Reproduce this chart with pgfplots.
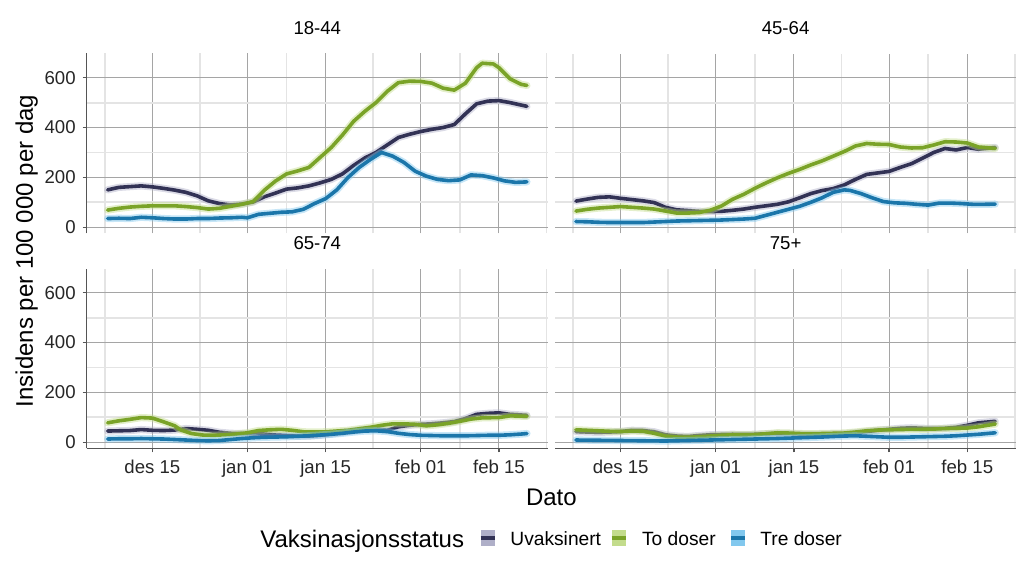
\documentclass[border=0pt]{standalone}
\usepackage{fontspec}
\setmainfont{Liberation Sans}
\usepackage{pgfplots}
\pgfplotsset{compat=1.18}
\definecolor{cU}{RGB}{50,50,85}
\definecolor{cUh}{RGB}{175,175,200}
\definecolor{cT}{RGB}{122,163,40}
\definecolor{cTh}{RGB}{195,220,140}
\definecolor{cR}{RGB}{27,118,170}
\definecolor{cRh}{RGB}{130,200,238}
\definecolor{gmaj}{RGB}{165,165,165}
\definecolor{gmin}{RGB}{228,228,228}
\definecolor{axl}{RGB}{85,85,85}
\newcommand{\tfont}{\fontsize{9.3}{11}\selectfont}
\newcommand{\lfont}{\fontsize{9.6}{11}\selectfont}
\newcommand{\bfont}{\fontsize{12}{14}\selectfont}
\pgfplotsset{
  panel/.style={
    scale only axis, width=230.6pt, height=90pt,
    xmin=2.25, xmax=84.75, ymin=-25, ymax=697,
    axis x line*=bottom, axis y line*=left,
    x axis line style={-, draw=axl, line width=0.7pt},
    y axis line style={-, draw=axl, line width=0.7pt},
    xtick={14,31,45,62,76},
    xticklabels={des 15, jan 01, jan 15, feb 01, feb 15},
    minor xtick={5.5,22.5,38,53.5,69,84.5},
    ytick={0,200,400,600},
    minor ytick={100,300,500},
    grid=both,
    major grid style={draw=gmaj, line width=0.5pt},
    minor grid style={draw=gmin, line width=0.9pt},
    tick align=outside, major tick length=2pt, minor tick length=0pt,
    tick style={draw=axl, line width=0.6pt},
    tick label style={font=\tfont, text=black!85},
    /pgf/number format/assume math mode=true,
    title style={font=\tfont, at={(0.5,1)}, anchor=center, yshift=6.8pt, inner sep=0pt},
  },
  top/.style={x axis line style={draw=none}, xmajorticks=false, xticklabels={}},
  right/.style={y axis line style={draw=none}, ymajorticks=false, yticklabels={}},
  halo/.style={line width=3.6pt, opacity=0.45, line join=round, line cap=round},
  main/.style={line width=1.8pt, line join=round, line cap=round},
}
\newcommand{\ser}[3]{%
  \addplot[#2, halo] coordinates {#3};
  \addplot[#1, main] coordinates {#3};}
\begin{document}
\begin{tikzpicture}
% 18-44
\begin{axis}[panel, top, at={(43.35pt,164.25pt)}, anchor=south west, title={18-44}]
\ser{cU}{cUh}{(6,150)(8,160)(10,163)(12,166)(14,162)(16,156)(18,149)(20,140)(22,126)(24,106)(26,95)(28,89)(30,93)(32,101)(34,122)(36,137)(38,153)(40,158)(42,166)(44,178)(46,192)(48,214)(50,248)(52,278)(54,300)(56,330)(58,360)(60,373)(62,384)(64,393)(66,400)(68,412)(70,455)(72,495)(74,506)(76,508)(78,500)(80,490)(81,485)}
\ser{cT}{cTh}{(6,69)(8,76)(10,81)(12,84)(14,86)(16,86)(18,86)(20,83)(22,79)(24,73)(26,76)(28,84)(30,92)(32,103)(33,125)(34,148)(36,185)(38,214)(40,226)(42,240)(44,280)(46,320)(48,370)(50,425)(52,465)(54,500)(56,545)(58,580)(60,586)(62,585)(64,578)(66,558)(68,550)(70,578)(72,640)(73,658)(75,655)(76,640)(78,595)(80,573)(81,569)}
\ser{cR}{cRh}{(6,35)(8,36)(10,35)(12,40)(14,38)(16,35)(18,33)(20,33)(22,35)(24,35)(26,37)(28,38)(30,40)(31,38)(33,52)(35,56)(37,60)(39,62)(41,72)(43,95)(45,115)(47,150)(49,200)(51,240)(53,272)(55,300)(57,285)(59,260)(61,225)(63,205)(65,192)(67,187)(69,190)(71,210)(73,207)(75,198)(77,186)(79,180)(81,182)}
\end{axis}
% 45-64
\begin{axis}[panel, top, right, at={(277.5pt,164.25pt)}, anchor=south west, title={45-64}]
\ser{cU}{cUh}{(6,105)(8,113)(10,120)(12,122)(14,116)(16,111)(18,106)(20,99)(22,80)(24,70)(26,67)(28,64)(30,63)(32,64)(34,68)(36,73)(38,80)(40,86)(42,92)(44,102)(46,118)(48,135)(50,147)(52,155)(54,170)(56,192)(58,212)(60,218)(62,224)(64,240)(66,255)(68,277)(70,300)(72,316)(74,310)(76,320)(78,313)(81,320)}
\ser{cT}{cTh}{(6,65)(8,72)(10,77)(12,80)(14,83)(16,80)(18,77)(20,73)(22,65)(24,57)(26,57)(28,59)(30,68)(32,85)(34,112)(36,132)(38,156)(40,178)(42,198)(44,216)(46,232)(48,250)(50,266)(52,285)(54,304)(56,326)(58,336)(60,333)(62,332)(64,322)(66,318)(68,319)(70,330)(72,343)(74,342)(76,338)(78,322)(81,316)}
\ser{cR}{cRh}{(6,23)(8,22)(10,20)(12,19)(14,19)(16,19)(18,19)(20,21)(22,23)(24,25)(26,26)(28,27)(30,28)(32,29)(34,31)(36,33)(38,36)(40,48)(42,60)(44,72)(46,84)(48,100)(50,118)(52,140)(54,150)(55,148)(57,135)(59,118)(61,103)(63,98)(65,96)(67,92)(69,89)(71,97)(73,97)(75,95)(77,92)(79,92)(81,93)}
\end{axis}
% 65-74
\begin{axis}[panel, at={(43.35pt,56.75pt)}, anchor=south west, title={65-74}]
\ser{cU}{cUh}{(6,45)(8,46)(10,47)(12,51)(14,48)(16,47)(18,49)(20,55)(22,52)(24,48)(26,40)(28,36)(30,35)(32,34)(34,33)(36,29)(38,27)(40,25)(42,25)(44,28)(46,33)(48,40)(50,46)(52,52)(54,54)(56,48)(58,62)(60,68)(62,72)(64,74)(66,78)(68,83)(70,95)(72,112)(74,116)(76,118)(78,112)(81,108)}
\ser{cT}{cTh}{(6,78)(8,86)(10,92)(12,99)(14,97)(16,82)(18,66)(19,50)(21,35)(23,29)(25,28)(27,30)(29,33)(31,38)(33,47)(35,50)(37,52)(39,48)(41,42)(43,41)(45,42)(47,45)(49,48)(51,54)(53,60)(55,68)(57,74)(59,74)(61,72)(63,66)(65,70)(67,76)(69,84)(71,93)(73,98)(76,99)(78,106)(81,104)}
\ser{cR}{cRh}{(6,13)(8,14)(10,14)(12,15)(14,14)(16,13)(18,11)(20,9)(22,7)(24,6)(26,7)(28,11)(30,15)(32,18)(34,20)(36,21)(38,22)(40,24)(42,26)(44,29)(46,32)(48,36)(50,41)(52,45)(54,46)(56,43)(58,36)(60,31)(62,28)(64,27)(66,26)(68,26)(70,26)(72,27)(74,28)(76,28)(78,30)(80,33)(81,35)}
\end{axis}
% 75+
\begin{axis}[panel, right, at={(277.5pt,56.75pt)}, anchor=south west, title={75+}]
\ser{cU}{cUh}{(6,43)(8,41)(10,40)(12,41)(14,43)(16,48)(18,47)(20,42)(22,30)(24,25)(26,23)(28,27)(30,30)(32,31)(34,32)(36,31)(38,32)(40,34)(42,35)(44,35)(46,33)(48,32)(50,33)(52,34)(54,35)(56,38)(58,43)(60,48)(62,52)(64,56)(66,58)(68,56)(70,55)(72,56)(74,60)(76,68)(78,78)(81,84)}
\ser{cT}{cTh}{(6,50)(8,48)(10,46)(12,44)(14,43)(16,45)(18,44)(20,36)(22,25)(24,21)(26,20)(28,22)(30,25)(32,28)(34,30)(36,30)(38,31)(40,34)(42,38)(44,37)(46,35)(48,34)(50,35)(52,36)(54,37)(56,41)(58,46)(60,49)(62,50)(64,51)(66,52)(68,52)(70,53)(72,55)(74,56)(76,57)(78,62)(81,73)}
\ser{cR}{cRh}{(6,9)(10,8)(14,7)(18,6)(22,5)(26,7)(30,9)(34,11)(38,13)(42,15)(46,18)(50,21)(54,25)(56,26)(58,24)(60,22)(62,20)(64,20)(66,21)(68,22)(70,23)(72,24)(74,26)(76,29)(78,32)(81,38)}
\end{axis}
% axis titles
\node[font=\bfont, rotate=90, anchor=base, inner sep=0pt] at (16.5pt,155.5pt) {Insidens per 100 000 per dag};
\node[font=\bfont, anchor=base, inner sep=0pt] at (275.7pt,28pt) {Dato};
% legend
\node[font=\bfont, anchor=base west, inner sep=0pt] at (130pt,7.4pt) {Vaksinasjonsstatus};
\fill[cUh] (240.35pt,8pt) rectangle (247.5pt,16pt);
\draw[cU, line width=1.6pt] (240.35pt,12pt) -- (247.5pt,12pt);
\node[font=\lfont, anchor=base west, inner sep=0pt] at (255pt,8pt) {Uvaksinert};
\fill[cTh] (305.85pt,8pt) rectangle (313pt,16pt);
\draw[cT, line width=1.6pt] (305.85pt,12pt) -- (313pt,12pt);
\node[font=\lfont, anchor=base west, inner sep=0pt] at (320.85pt,8pt) {To doser};
\fill[cRh] (365.5pt,8pt) rectangle (372.5pt,16pt);
\draw[cR, line width=1.6pt] (365.5pt,12pt) -- (372.5pt,12pt);
\node[font=\lfont, anchor=base west, inner sep=0pt] at (380pt,8pt) {Tre doser};
\pgfresetboundingbox
\useasboundingbox (0,0) rectangle (512pt,281pt);
\end{tikzpicture}
\end{document}
